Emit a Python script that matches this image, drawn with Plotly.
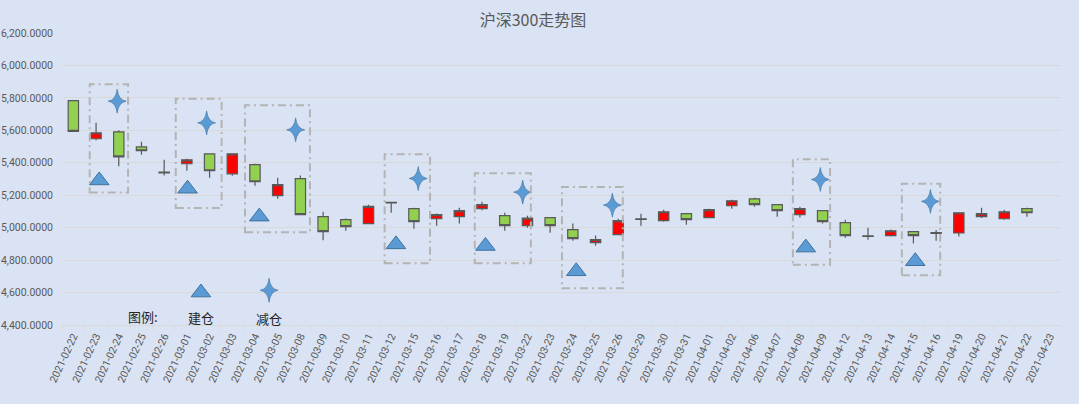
import plotly.graph_objects as go

dates = [
    "2021-02-22", "2021-02-23", "2021-02-24", "2021-02-25", "2021-02-26",
    "2021-03-01", "2021-03-02", "2021-03-03", "2021-03-04", "2021-03-05",
    "2021-03-08", "2021-03-09", "2021-03-10", "2021-03-11", "2021-03-12",
    "2021-03-15", "2021-03-16", "2021-03-17", "2021-03-18", "2021-03-19",
    "2021-03-22", "2021-03-23", "2021-03-24", "2021-03-25", "2021-03-26",
    "2021-03-29", "2021-03-30", "2021-03-31", "2021-04-01", "2021-04-02",
    "2021-04-06", "2021-04-07", "2021-04-08", "2021-04-09", "2021-04-12",
    "2021-04-13", "2021-04-14", "2021-04-15", "2021-04-16", "2021-04-19",
    "2021-04-20", "2021-04-21", "2021-04-22", "2021-04-23",
]

open_ = [5783, 5548, 5591, 5498, 5342, 5394, 5455, 5332, 5388, 5197,
         5302, 5068, 5049, 5025, 5156, 5117, 5055, 5068, 5117, 5074,
         5012, 5062, 4988, 4908, 4957, 5055, 5043, 5086, 5062, 5135,
         5178, 5142, 5080, 5105, 5031, 4950, 4951, 4975, 4969, 4967,
         5068, 5055, 5117, None]
high = [5783, 5646, 5601, 5529, 5418, 5425, 5455, 5457, 5394, 5308,
        5322, 5098, 5057, 5142, 5157, 5123, 5088, 5123, 5160, 5092,
        5074, 5062, 5025, 4951, 5055, 5086, 5111, 5088, 5117, 5172,
        5185, 5142, 5129, 5105, 5049, 5000, 4988, 4976, 4985, 5092,
        5123, 5111, 5123, None]
low = [5594, 5539, 5379, 5449, 5322, 5351, 5308, 5320, 5258, 5178,
       5080, 4922, 4981, 5022, 5092, 4994, 5012, 5025, 5108, 4981,
       5000, 4969, 4920, 4889, 4955, 5012, 5037, 5018, 5060, 5117,
       5129, 5068, 5062, 5025, 4938, 4926, 4945, 4902, 4920, 4945,
       5059, 5049, 5068, None]
close = [5594, 5585, 5437, 5474, 5337, 5418, 5351, 5455, 5283, 5265,
         5080, 4975, 5006, 5131, 5152, 5037, 5080, 5105, 5142, 5012,
         5059, 5012, 4932, 4926, 5043, 5051, 5098, 5049, 5111, 5166,
         5142, 5105, 5117, 5037, 4951, 4946, 4981, 4951, 4965, 5092,
         5086, 5098, 5092, None]

# 建仓 / 减仓 signals (x in category units, as placed in the source chart)
buy_x = [1.14, 5.03, 8.19, 14.21, 18.15, 22.15, 32.26, 37.08]
buy_y = [5291, 5240, 5068, 4897, 4887, 4731, 4877, 4793]
sell_x = [1.93, 5.87, 9.79, 15.19, 19.79, 23.74, 32.90, 37.75]
sell_y = [5780, 5646, 5603, 5303, 5219, 5139, 5297, 5162]

# holding-period boxes
box_x0 = [0.72, 4.51, 7.56, 13.71, 17.68, 21.52, 31.69, 36.49]
box_x1 = [2.41, 6.53, 10.42, 15.71, 20.15, 24.20, 33.33, 38.18]
box_top = [5884, 5794, 5754, 5453, 5336, 5250, 5422, 5271]
box_bottom = [5217, 5121, 4971, 4780, 4780, 4626, 4772, 4706]

# in-chart legend
legend_labels = ["图例:", "建仓", "减仓"]
legend_label_x = [3.05, 5.62, 8.62]
legend_label_y = [4452, 4448, 4440]
legend_buy = (5.62, 4600)
legend_sell = (8.62, 4614)

BG = "#DAE3F3"
GRID = "#D9D9D9"
TEXT = "#595959"
MARKER = "#5B9BD5"
MARKER_EDGE = "#41719C"
FONT = "Noto Sans CJK SC, Roboto, sans-serif"
TICK_FONT = "Roboto, sans-serif"

# 4-point star outline in pixels around its anchor (thin arms, taller than wide)
STAR_PATH = (
    "M0,12 Q1.2,1.2 9,0 Q1.2,-1.2 0,-12 "
    "Q-1.2,-1.2 -9,0 Q-1.2,1.2 0,12 Z"
)

idx = list(range(len(dates)))

fig = go.Figure()

fig.add_trace(
    go.Candlestick(
        x=idx,
        open=open_,
        high=high,
        low=low,
        close=close,
        increasing={"fillcolor": "#FF0000", "line": {"color": "#595959", "width": 1.2}},
        decreasing={"fillcolor": "#92D050", "line": {"color": "#595959", "width": 1.2}},
        whiskerwidth=0,
        showlegend=False,
    )
)

fig.add_trace(
    go.Scatter(
        x=buy_x + [legend_buy[0]],
        y=buy_y + [legend_buy[1]],
        mode="markers",
        marker={
            "symbol": "triangle-up",
            "size": 17,
            "color": MARKER,
            "line": {"color": MARKER_EDGE, "width": 1},
        },
        showlegend=False,
    )
)

for x, y in zip(sell_x + [legend_sell[0]], sell_y + [legend_sell[1]]):
    fig.add_shape(
        type="path",
        xref="x",
        yref="y",
        xsizemode="pixel",
        ysizemode="pixel",
        xanchor=x,
        yanchor=y,
        path=STAR_PATH,
        fillcolor=MARKER,
        line={"color": MARKER_EDGE, "width": 0.6},
    )

for x0, x1, y0, y1 in zip(box_x0, box_x1, box_bottom, box_top):
    fig.add_shape(
        type="rect",
        xref="x",
        yref="y",
        x0=x0,
        x1=x1,
        y0=y0,
        y1=y1,
        line={"color": "#B4B4B4", "width": 2, "dash": "8px,4px,2px,4px"},
        fillcolor="rgba(0,0,0,0)",
    )

for text, x, y in zip(legend_labels, legend_label_x, legend_label_y):
    fig.add_annotation(
        x=x,
        y=y,
        xref="x",
        yref="y",
        text=text,
        showarrow=False,
        font={"family": FONT, "size": 13, "color": "#262626"},
    )

fig.update_xaxes(
    range=[-0.5, len(dates) - 0.5],
    tickmode="array",
    tickvals=idx,
    ticktext=dates,
    tickangle=-65,
    ticks="",
    showgrid=False,
    zeroline=False,
    showline=True,
    linecolor=GRID,
    automargin=False,
    tickfont={"family": TICK_FONT, "size": 10.5, "color": TEXT},
    minor={
        "tickvals": [i - 0.5 for i in range(len(dates) + 1)],
        "ticks": "outside",
        "ticklen": 4,
        "tickcolor": GRID,
        "showgrid": False,
    },
    rangeslider={"visible": False},
)

fig.update_yaxes(
    range=[4400, 6200],
    dtick=200,
    tickformat=",.4f",
    showgrid=True,
    gridcolor=GRID,
    zeroline=False,
    ticks="",
    automargin=False,
    ticklabelstandoff=8,
    tickfont={"family": TICK_FONT, "size": 10.5, "color": TEXT},
)

fig.update_layout(
    title={
        "text": "沪深300走势图",
        "x": 0.494,
        "xanchor": "center",
        "y": 0.95,
        "yanchor": "middle",
        "font": {"family": FONT, "size": 16, "color": TEXT},
    },
    width=1079,
    height=404,
    paper_bgcolor=BG,
    plot_bgcolor=BG,
    margin={"l": 62, "r": 18, "t": 33, "b": 79},
    boxgap=0.35,
    showlegend=False,
)

# drop the browser's default body margin so the chart fills the window
fig.write_html(
    "out.html",
    config={"displayModeBar": False},
    post_script="document.body.style.margin = '0';",
)
